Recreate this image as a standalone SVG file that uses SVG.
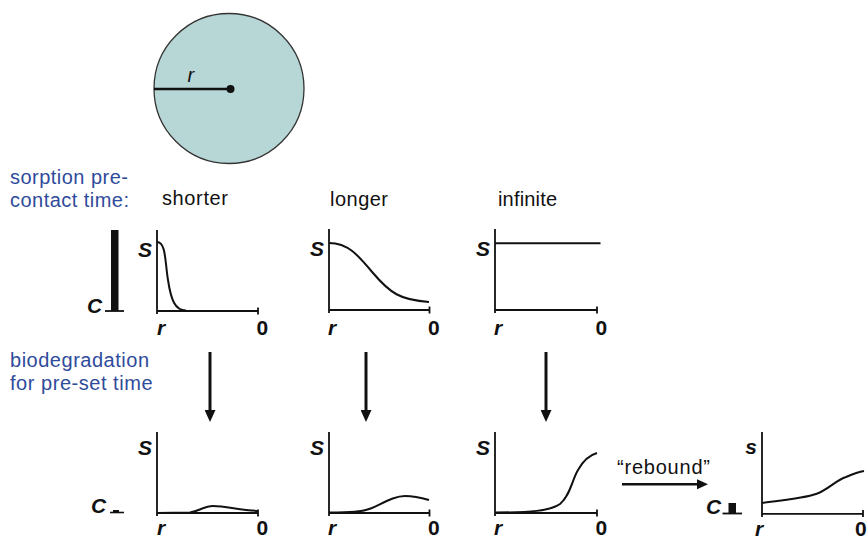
<svg xmlns="http://www.w3.org/2000/svg" width="868" height="539" viewBox="0 0 868 539">
<defs>
<marker id="ah" markerUnits="userSpaceOnUse" markerWidth="12" markerHeight="11" refX="0" refY="5.5" orient="auto"><path d="M0,0 L12,5.5 L0,11 z" fill="#111"/></marker>
<marker id="ah2" markerUnits="userSpaceOnUse" markerWidth="11" markerHeight="10" refX="0" refY="5" orient="auto"><path d="M0,0 L11,5 L0,10 z" fill="#111"/></marker>
</defs>
<style>
.blue{font-family:"Liberation Sans",Arial,sans-serif;font-size:20px;fill:#2f4b9b}
.lbl{font-family:"Liberation Sans",Arial,sans-serif;font-size:20px;fill:#111}
.ax{font-family:"Liberation Sans",Arial,sans-serif;font-size:21px;font-weight:bold;font-style:italic;fill:#111}
.zero{font-family:"Liberation Sans",Arial,sans-serif;font-size:21px;font-weight:bold;fill:#111}
.axis{fill:none;stroke:#111;stroke-width:1.8}
.crv{fill:none;stroke:#111;stroke-width:2}
.arr{fill:none;stroke:#111;stroke-width:3}
.bar{fill:#111}
</style>
<rect width="868" height="539" fill="#fff"/>

<g id="particle">
<circle cx="229" cy="88.5" r="75" fill="#b6d7d6" stroke="#333" stroke-width="1.3"/>
<line x1="154" y1="89" x2="230" y2="89" stroke="#111" stroke-width="2.6"/>
<circle cx="230.5" cy="89" r="4" fill="#111"/>
<text x="187.5" y="82" font-family="Liberation Sans, Arial, sans-serif" font-size="20" font-style="italic" fill="#111">r</text>
</g>

<g id="row-labels">
<text class="blue" x="10" y="183.5" textLength="118">sorption pre-</text>
<text class="blue" x="10" y="207" textLength="119">contact time:</text>
<text class="blue" x="10" y="366.5" textLength="139">biodegradation</text>
<text class="blue" x="10" y="390" textLength="142.5">for pre-set time</text>
</g>

<g id="col-labels">
<text class="lbl" x="162" y="205" textLength="66">shorter</text>
<text class="lbl" x="330" y="206" textLength="58">longer</text>
<text class="lbl" x="498" y="206" textLength="59">infinite</text>
</g>

<g id="c-bar-top">
<rect class="bar" x="111" y="230" width="7.5" height="81"/>
<line x1="105" y1="311" x2="124" y2="311" stroke="#111" stroke-width="1.8"/>
<text class="ax" x="87" y="312.5">C</text>
</g>

<g id="graph-shorter">
<path class="axis" d="M157,230 V314 M157,311 H258 M258,307.5 V314.5"/>
<path class="crv" d="M157,242 C166,242 165,262 168,280 C171,300 175,310.5 186,310.5"/>
<text class="ax" x="152" y="257" text-anchor="end">S</text>
<text class="ax" x="157" y="335">r</text>
<text class="zero" x="256.5" y="335">0</text>
</g>

<g id="graph-longer">
<path class="axis" d="M329,229 V313 M329,310 H429.5 M429.5,306.5 V313.5"/>
<path class="crv" d="M329,243 C348,243 358,255 373,273 C390,293 400,300 429,302"/>
<text class="ax" x="324" y="256" text-anchor="end">S</text>
<text class="ax" x="328" y="335">r</text>
<text class="zero" x="428" y="335">0</text>
</g>

<g id="graph-infinite">
<path class="axis" d="M495,229 V313 M495,310 H597 M597,306.5 V313.5"/>
<path class="crv" d="M495,243.3 H600.5"/>
<text class="ax" x="490" y="256" text-anchor="end">S</text>
<text class="ax" x="494" y="335">r</text>
<text class="zero" x="595.5" y="335">0</text>
</g>

<g id="c-bar-bottom">
<rect class="bar" x="113" y="510" width="6" height="3"/>
<line x1="110" y1="512.5" x2="124" y2="512.5" stroke="#111" stroke-width="1.6"/>
<text class="ax" x="91" y="513">C</text>
</g>

<g id="graph-shorter-deg">
<path class="axis" d="M157,432 V516 M157,513 H258 M258,509.5 V516.5"/>
<path class="crv" d="M157,513 L190,512.5 C200,511 204,506 213,506 C225,506 240,510 258,511"/>
<text class="ax" x="152" y="455" text-anchor="end">S</text>
<text class="ax" x="157" y="535">r</text>
<text class="zero" x="256.5" y="535">0</text>
</g>

<g id="graph-longer-deg">
<path class="axis" d="M329,432 V516 M329,513 H429.5 M429.5,509.5 V516.5"/>
<path class="crv" d="M329,512.5 C350,512.5 362,512 372,508 C385,502 395,496 405,496 C415,496 422,498 429,500"/>
<text class="ax" x="324" y="455" text-anchor="end">S</text>
<text class="ax" x="328" y="535">r</text>
<text class="zero" x="428" y="535">0</text>
</g>

<g id="graph-infinite-deg">
<path class="axis" d="M495,432 V516 M495,513 H597 M597,509.5 V516.5"/>
<path class="crv" d="M495,512.5 C530,512.5 550,511 560,504 C570,496 572,480 578,470 C584,459 590,455 597,453"/>
<text class="ax" x="490" y="455" text-anchor="end">S</text>
<text class="ax" x="494" y="535">r</text>
<text class="zero" x="595.5" y="535">0</text>
</g>

<g id="c-bar-rebound">
<rect class="bar" x="728.5" y="503" width="7.5" height="10.5"/>
<line x1="722.5" y1="513.5" x2="742" y2="513.5" stroke="#111" stroke-width="1.8"/>
<text class="ax" x="706" y="514">C</text>
</g>

<g id="graph-rebound">
<path class="axis" d="M762,432 V517 M762,513.8 H863 M863,510 V517"/>
<path class="crv" d="M762,503 C785,500 805,498 816,494 C828,490 836,480 846,477 C853,474 858,472 864,471"/>
<text class="ax" x="757" y="454" text-anchor="end">s</text>
<text class="ax" x="755" y="535.5">r</text>
<text class="zero" x="855" y="535.5">0</text>
</g>

<g id="connectors">
<line class="arr" x1="210" y1="352" x2="210" y2="410" marker-end="url(#ah)"/>
<line class="arr" x1="366" y1="352" x2="366" y2="410" marker-end="url(#ah)"/>
<line class="arr" x1="546" y1="352" x2="546" y2="410" marker-end="url(#ah)"/>
<line x1="622" y1="484.3" x2="697" y2="484.3" stroke="#111" stroke-width="2.6" marker-end="url(#ah2)"/>
<text class="lbl" x="617" y="473.5" textLength="93">“rebound”</text>
</g>
</svg>
